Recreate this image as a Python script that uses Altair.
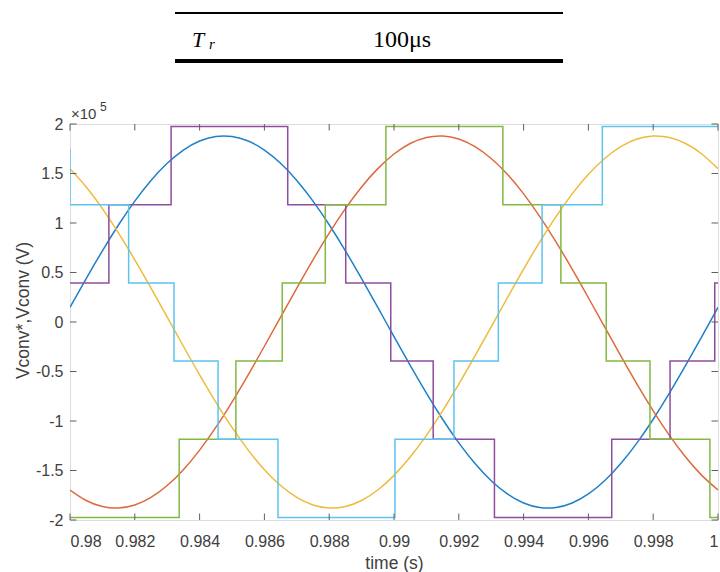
import altair as alt
import pandas as pd

# ---- data ----
time_s = [0.98, 0.9805, 0.981, 0.9815, 0.982, 0.9825, 0.983, 0.9835, 0.984, 0.9845,
          0.985, 0.9855, 0.986, 0.9865, 0.987, 0.9875, 0.988, 0.9885, 0.989, 0.9895,
          0.99, 0.9905, 0.991, 0.9915, 0.992, 0.9925, 0.993, 0.9935, 0.994, 0.9945,
          0.995, 0.9955, 0.996, 0.9965, 0.997, 0.9975, 0.998, 0.9985, 0.999, 0.9995, 1.0]

vref_a = [14800, 43900, 71900, 98200, 122100, 143000, 160300, 173700, 182800, 187400,
          187400, 182800, 173700, 160300, 143000, 122100, 98200, 71900, 43900, 14800,
          -14800, -43900, -71900, -98200, -122100, -143000, -160300, -173700, -182800, -187400,
          -187400, -182800, -173700, -160300, -143000, -122100, -98200, -71900, -43900, -14800,
          14800]
vref_b = [-169700, -180300, -186400, -187900, -184900, -177200, -165200, -149200, -129400, -106500,
          -80900, -53400, -24500, 4900, 34300, 62800, 89700, 114500, 136400, 154900,
          169700, 180300, 186400, 187900, 184900, 177200, 165200, 149200, 129400, 106500,
          80900, 53400, 24500, -4900, -34300, -62800, -89700, -114500, -136400, -154900,
          -169700]
vref_c = [154900, 136400, 114500, 89700, 62800, 34300, 4900, -24500, -53400, -80900,
          -106500, -129400, -149200, -165200, -177200, -184900, -187900, -186400, -180300, -169700,
          -154900, -136400, -114500, -89700, -62800, -34300, -4900, 24500, 53400, 80900,
          106500, 129400, 149200, 165200, 177200, 184900, 187900, 186400, 180300, 169700,
          154900]

# staircase converter voltages: switching instants and levels (step-after)
conv_a_t = [0.98, 0.9812, 0.98312, 0.98672, 0.98851, 0.9899, 0.99121, 0.9931, 0.99672, 0.99852, 0.9999, 1.0]
conv_a_v = [39500, 118500, 197500, 118500, 39500, -39500, -118500, -197500, -118500, -39500, 39500, 39500]
conv_b_t = [0.98, 0.98337, 0.98512, 0.98655, 0.98788, 0.98975, 0.99336, 0.99515, 0.99655, 0.9979, 0.99975, 1.0]
conv_b_v = [-197500, -118500, -39500, 39500, 118500, 197500, 118500, 39500, -39500, -118500, -197500, -197500]
conv_c_t = [0.98, 0.98, 0.98181, 0.98321, 0.98457, 0.98642, 0.99003, 0.99185, 0.99322, 0.99457, 0.99643, 1.0]
conv_c_v = [175000, 118500, 39500, -39500, -118500, -197500, -118500, -39500, 39500, 118500, 197500, 197500]

x_ticks = [0.98, 0.982, 0.984, 0.986, 0.988, 0.99, 0.992, 0.994, 0.996, 0.998, 1.0]
y_ticks = [-200000, -150000, -100000, -50000, 0, 50000, 100000, 150000, 200000]

ref_names = ["Vref_a", "Vref_b", "Vref_c"]
conv_names = ["Vconv_a", "Vconv_b", "Vconv_c"]
ref_colors = ["#1f80c8", "#dd6a3c", "#efbb3c"]
conv_colors = ["#8e4d9e", "#84b843", "#5cc4ef"]

# ---- tables ----
sines = pd.DataFrame({
    "t": time_s * 3,
    "v": vref_a + vref_b + vref_c,
    "series": [ref_names[0]] * len(time_s) + [ref_names[1]] * len(time_s) + [ref_names[2]] * len(time_s),
})
rows = []
for name, ts, vs in zip(conv_names, [conv_a_t, conv_b_t, conv_c_t], [conv_a_v, conv_b_v, conv_c_v]):
    for i, (t, v) in enumerate(zip(ts, vs)):
        rows.append({"t": t, "v": v, "series": name, "idx": i})
steps = pd.DataFrame(rows)
xt = pd.DataFrame({"t": x_ticks})
yt = pd.DataFrame({"v": y_ticks})
one = pd.DataFrame({"k": [0]})

W, H = 648, 396
AX = "#5f5f5f"
TXT = "#404040"
FONT = "Liberation Sans"

xscale = alt.Scale(domain=[0.98, 1.0], nice=False, zero=False)
yscale = alt.Scale(domain=[-200000, 200000], nice=False, zero=False)
cscale = alt.Scale(domain=ref_names + conv_names, range=ref_colors + conv_colors)

x_axis = alt.Axis(values=x_ticks, labelExpr="format(datum.value, '.3~f')", grid=False,
                  domain=False, ticks=False, tickSize=0, labelPadding=13, labelFontSize=16,
                  labelFont=FONT, labelColor=TXT, title="time (s)", titleFont=FONT,
                  titleFontSize=17.5, titleFontWeight="normal", titleColor=TXT,
                  titleBaseline="alphabetic", titleY=48)
y_axis = alt.Axis(values=y_ticks, labelExpr="toString(datum.value / 100000)", grid=False,
                  domain=False, ticks=False, tickSize=0, labelPadding=7, labelFontSize=16,
                  labelFont=FONT, labelColor=TXT, title="Vconv*,Vconv (V)", titleFont=FONT,
                  titleFontSize=17.5, titleFontWeight="normal", titleColor=TXT,
                  titleAngle=270, titleBaseline="middle", titleAlign="center",
                  titleX=-47, titleY=186)

X_T = alt.X("t:Q", scale=xscale, axis=x_axis)
Y_V = alt.Y("v:Q", scale=yscale, axis=y_axis)

ref_layer = alt.Chart(sines).mark_line(strokeWidth=1.5, interpolate="natural", clip=True).encode(
    x=X_T, y=Y_V,
    color=alt.Color("series:N", scale=cscale, legend=None),
)

conv_layer = alt.Chart(steps).mark_line(strokeWidth=1.5, interpolate="step-after", clip=True).encode(
    x=X_T, y=Y_V,
    color=alt.Color("series:N", scale=cscale, legend=None),
    order="idx:Q",
)

TL = 6.5
tick_bottom = alt.Chart(xt).mark_rule(color=AX, strokeWidth=1).encode(
    x=X_T, y=alt.value(H), y2=alt.value(H - TL))
tick_top = alt.Chart(xt).mark_rule(color=AX, strokeWidth=1).encode(
    x=X_T, y=alt.value(0), y2=alt.value(TL))
tick_left = alt.Chart(yt).mark_rule(color=AX, strokeWidth=1).encode(
    y=Y_V, x=alt.value(0), x2=alt.value(TL))
tick_right = alt.Chart(yt).mark_rule(color=AX, strokeWidth=1).encode(
    y=Y_V, x=alt.value(W), x2=alt.value(W - TL))

# exponent label
exp_base = alt.Chart(one).mark_text(text="×10", font=FONT, fontSize=15, fontWeight="normal",
                                    color=TXT, align="left", baseline="alphabetic").encode(
    x=alt.value(1), y=alt.value(-5))
exp_pow = alt.Chart(one).mark_text(text="5", font=FONT, fontSize=12, fontWeight="normal",
                                   color=TXT, align="left", baseline="alphabetic").encode(
    x=alt.value(30), y=alt.value(-13))

# table fragment above the figure
rule_top = alt.Chart(one).mark_rule(color="black", strokeWidth=2).encode(
    x=alt.value(105), x2=alt.value(493), y=alt.value(-111))
rule_bot = alt.Chart(one).mark_rule(color="black", strokeWidth=4).encode(
    x=alt.value(105), x2=alt.value(493), y=alt.value(-63))
txt_T = alt.Chart(one).mark_text(text="T", font="Liberation Serif", fontStyle="italic",
                                 fontWeight="normal", fontSize=22, color="black",
                                 align="left", baseline="alphabetic").encode(
    x=alt.value(122), y=alt.value(-77))
txt_r = alt.Chart(one).mark_text(text="r", font="Liberation Serif", fontStyle="italic",
                                 fontWeight="normal", fontSize=15, color="black",
                                 align="left", baseline="alphabetic").encode(
    x=alt.value(139), y=alt.value(-75))
txt_val = alt.Chart(one).mark_text(text="100μs", font="Liberation Serif", fontWeight="normal",
                                   fontSize=24, color="black",
                                   align="left", baseline="alphabetic").encode(
    x=alt.value(303), y=alt.value(-77))

chart = alt.layer(
    ref_layer, conv_layer, tick_bottom, tick_top, tick_left, tick_right,
    exp_base, exp_pow, rule_top, rule_bot, txt_T, txt_r, txt_val,
).properties(
    width=W, height=H,
    autosize=alt.AutoSizeParams(type="none"),
    padding={"left": 70, "top": 124, "right": 2, "bottom": 52},
).configure_view(stroke=AX, strokeWidth=1).configure(background="white")

chart.save("out.html", embed_options={"renderer": "svg", "actions": False})
